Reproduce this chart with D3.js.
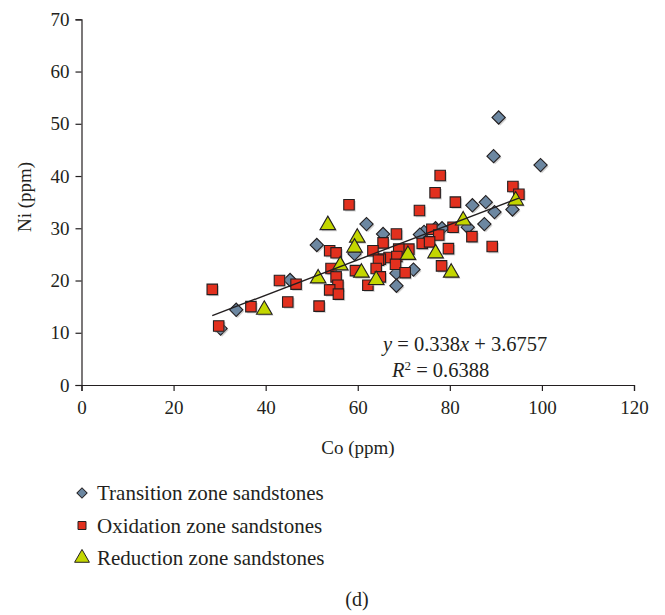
<!DOCTYPE html>
<html>
<head>
<meta charset="utf-8">
<script src="https://cdn.jsdelivr.net/npm/d3@7"></script>
<style>
  body { margin: 0; background: #fff; }
  text { font-family: "Liberation Serif", "DejaVu Serif", serif; fill: #231f20; }
</style>
</head>
<body>
<div id="chart"></div>
<script>
// Co vs Ni (ppm)
var transition = [
  [90.6,51.2],[89.5,43.8],[99.7,42.1],[84.9,34.4],[87.8,35.0],[89.7,33.1],[93.6,33.6],
  [83.9,30.2],[87.5,30.8],[74.4,29.3],[76.9,30.0],[78.3,30.0],[73.5,28.8],[61.9,30.8],
  [65.5,28.9],[51.1,26.8],[59.3,25.1],[68.4,21.4],[72.1,22.1],[68.4,19.0],[45.3,20.1],
  [33.6,14.4],[30.2,10.8]
];
var oxidation = [
  [58.1,34.5],[77.9,40.1],[93.7,38.0],[95.0,36.5],[76.8,36.8],[81.2,35.0],[73.4,33.4],
  [68.4,28.9],[76.1,29.8],[80.7,30.2],[84.8,28.4],[77.6,28.7],[74.0,27.1],[75.6,27.4],
  [79.7,26.1],[89.2,26.5],[71.1,26.0],[68.9,26.0],[66.8,24.4],[68.5,24.6],[65.5,27.2],
  [64.9,24.1],[68.2,23.1],[70.3,21.5],[78.2,22.8],[53.9,25.7],[55.3,25.3],[63.3,25.7],
  [64.5,23.9],[64.0,22.3],[64.9,20.7],[62.2,19.1],[59.5,21.9],[54.2,22.3],[55.3,20.7],
  [55.7,19.1],[53.9,18.2],[55.8,17.4],[51.6,15.1],[28.4,18.3],[36.8,15.0],[29.8,11.3],
  [43.0,20.0],[46.6,19.3],[44.8,15.9]
];
var reduction = [
  [53.5,30.6],[59.9,28.2],[59.3,26.3],[56.2,22.9],[60.8,21.5],[51.4,20.4],[39.7,14.4],
  [64.0,20.1],[70.9,24.9],[76.9,25.2],[80.3,21.5],[82.9,31.5],[94.3,35.3]
];
var xTicks = [0, 20, 40, 60, 80, 100, 120];
var yTicks = [0, 10, 20, 30, 40, 50, 60, 70];
var seriesNames = ["Transition zone sandstones", "Oxidation zone sandstones", "Reduction zone sandstones"];
var slope = 0.338, intercept = 3.6757, r2 = "0.6388";
var fitRange = [28.4, 95.0];

var svg = d3.select("#chart").append("svg")
    .attr("width", 665)
    .attr("height", 615);

var x = d3.scaleLinear().domain([0, 120]).range([81.5, 634]);
var y = d3.scaleLinear().domain([0, 70]).range([385, 19.3]);

// axes
var xAxis = svg.append("g")
    .attr("transform", "translate(0," + y(0) + ")")
    .call(d3.axisBottom(x).tickValues(xTicks).tickSize(6).tickPadding(10));
var yAxis = svg.append("g")
    .attr("transform", "translate(" + x(0) + ",0)")
    .call(d3.axisLeft(y).tickValues(yTicks).tickSize(6).tickPadding(6));

[xAxis, yAxis].forEach((g)=>{
    g.select(".domain").attr("stroke", "#231f20").attr("stroke-width", 1.2);
    g.selectAll(".tick line").attr("stroke", "#231f20").attr("stroke-width", 1.2);
    g.selectAll(".tick text")
        .style("font-family", "Liberation Serif, serif")
        .style("font-size", "19px")
        .attr("fill", "#231f20");
});

svg.append("text")
    .attr("x", 358).attr("y", 454)
    .attr("text-anchor", "middle")
    .style("font-size", "19px")
    .text("Co (ppm)");

svg.append("text")
    .attr("transform", "translate(31,197) rotate(-90)")
    .attr("text-anchor", "middle")
    .style("font-size", "19px")
    .text("Ni (ppm)");

// marker shapes
var colors = ["#6c87a1", "#e2301e", "#c3d600"];
var symbols = [d3.symbolSquare, d3.symbolSquare, d3.symbolTriangle];
var sizes = [88, 110, 105];
var rot = [45, 0, 0];

function drawSeries(data, i) {
    var sym = d3.symbol().type(symbols[i]).size(sizes[i]);
    var g = svg.append("g");
    // light shadow
    g.selectAll("path.shadow")
        .data(data)
        .enter()
        .append("path")
            .attr("class", "shadow")
            .attr("d", sym)
            .attr("transform", (d)=>{ return "translate(" + (x(d[0]) + 1.5) + "," + (y(d[1]) + 1.5) + ") rotate(" + rot[i] + ")"; })
            .attr("fill", "#9a9a9a")
            .attr("opacity", 0.45);
    g.selectAll("path.mark")
        .data(data)
        .enter()
        .append("path")
            .attr("class", "mark")
            .attr("d", sym)
            .attr("transform", (d)=>{ return "translate(" + x(d[0]) + "," + y(d[1]) + ") rotate(" + rot[i] + ")"; })
            .attr("fill", colors[i])
            .attr("stroke", "#231f20")
            .attr("stroke-width", 1.1);
}

drawSeries(transition, 0);
drawSeries(oxidation, 1);
drawSeries(reduction, 2);

// trend line
svg.append("line")
    .attr("x1", x(fitRange[0])).attr("y1", y(slope * fitRange[0] + intercept))
    .attr("x2", x(fitRange[1])).attr("y2", y(slope * fitRange[1] + intercept))
    .attr("stroke", "#231f20")
    .attr("stroke-width", 1.4);

var eq = svg.append("text")
    .attr("x", 383).attr("y", 351)
    .style("font-size", "20.5px");
eq.append("tspan").style("font-style", "italic").text("y");
eq.append("tspan").text(" = " + slope);
eq.append("tspan").style("font-style", "italic").text("x");
eq.append("tspan").text(" + " + intercept);

var rt = svg.append("text")
    .attr("x", 392).attr("y", 377)
    .style("font-size", "20.5px");
rt.append("tspan").style("font-style", "italic").text("R");
rt.append("tspan").attr("dy", -7).style("font-size", "13px").text("2");
rt.append("tspan").attr("dy", 7).text(" = " + r2);

// legend
var legend = svg.selectAll("g.legend")
    .data(seriesNames)
    .enter()
    .append("g")
        .attr("class", "legend")
        .attr("transform", (d, i)=>{ return "translate(82," + (493 + i * 32.5) + ")"; });

var legSizes = [52, 64, 95];
legend.append("path")
    .attr("d", (d, i)=>{ return d3.symbol().type(symbols[i]).size(legSizes[i])(); })
    .attr("transform", (d, i)=>{ return "rotate(" + rot[i] + ")"; })
    .attr("fill", (d, i)=>{ return colors[i]; })
    .attr("stroke", "#231f20")
    .attr("stroke-width", 1);

legend.append("text")
    .attr("x", 15).attr("y", 7)
    .style("font-size", "21px")
    .text((d)=>{ return d; });

svg.append("text")
    .attr("x", 357).attr("y", 606)
    .attr("text-anchor", "middle")
    .style("font-size", "20px")
    .text("(d)");
</script>
</body>
</html>
